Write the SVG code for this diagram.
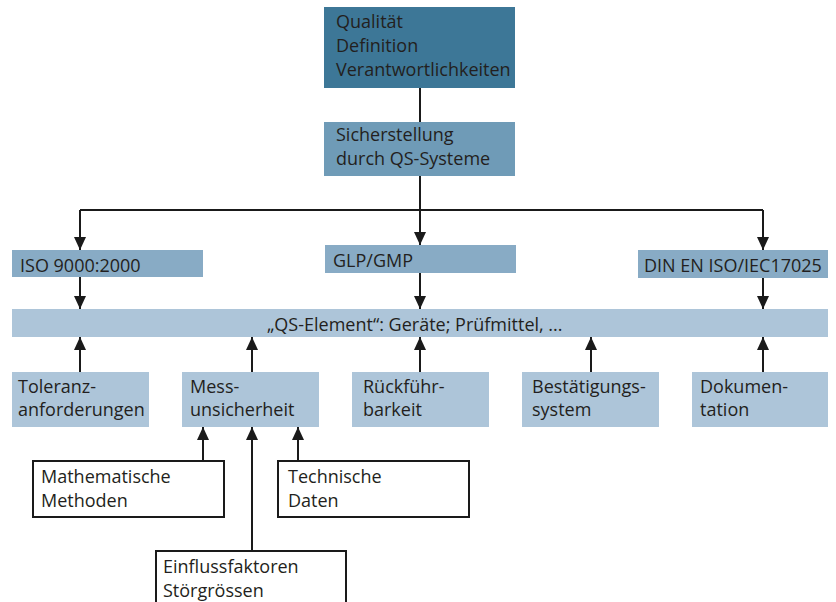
<svg xmlns="http://www.w3.org/2000/svg" width="836" height="602" viewBox="0 0 836 602">
  <style>
    text { font-family: "Open Sans", "Liberation Sans", sans-serif; font-size: 18px; fill: #231f20; }
    .dark { fill: #3d7797; }
    .mid { fill: #6f9bb7; }
    .std { fill: #88abc5; }
    .light { fill: #adc5d9; }
    .outline { fill: #ffffff; stroke: #1a1a1a; stroke-width: 2; }
    .wire { fill: none; stroke: #1a1a1a; stroke-width: 2; }
    .arrow { fill: none; stroke: #1a1a1a; stroke-width: 2; marker-end: url(#head); }
  </style>
  <defs>
    <marker id="head" viewBox="0 0 13 12" refX="13" refY="6" markerWidth="13" markerHeight="12" markerUnits="userSpaceOnUse" orient="auto">
      <path d="M0,0 L13,6 L0,12 Z" fill="#1a1a1a"/>
    </marker>
  </defs>

  <g id="connectors">
    <path class="wire" d="M420,88 V122"/>
    <path class="wire" d="M80,210 H763"/>
    <path class="arrow" d="M420,176 V245"/>
    <path class="arrow" d="M80,210 V250"/>
    <path class="arrow" d="M763,210 V250"/>
    <path class="arrow" d="M80,277 V309"/>
    <path class="arrow" d="M420,273 V309"/>
    <path class="arrow" d="M763,278 V309"/>
    <path class="arrow" d="M80,372 V337"/>
    <path class="arrow" d="M252,372 V337"/>
    <path class="arrow" d="M420,372 V337"/>
    <path class="arrow" d="M591,372 V337"/>
    <path class="arrow" d="M763,372 V337"/>
    <path class="arrow" d="M203,461 V427"/>
    <path class="arrow" d="M252,551 V427"/>
    <path class="arrow" d="M298,461 V427"/>
  </g>

  <g id="qualitaet">
    <rect class="dark" x="324" y="7" width="191" height="81"/>
    <text x="336" y="28">Qualität</text>
    <text x="336" y="52">Definition</text>
    <text x="336" y="76">Verantwortlichkeiten</text>
  </g>
  <g id="sicherstellung">
    <rect class="mid" x="324" y="122" width="191" height="54"/>
    <text x="336" y="141">Sicherstellung</text>
    <text x="336" y="165">durch QS-Systeme</text>
  </g>
  <g id="iso9000">
    <rect class="std" x="12" y="250" width="191" height="27"/>
    <text x="20" y="272">ISO 9000:2000</text>
  </g>
  <g id="glp-gmp">
    <rect class="std" x="325" y="245" width="191" height="28"/>
    <text x="333" y="267">GLP/GMP</text>
  </g>
  <g id="din-en-iso">
    <rect class="std" x="638" y="250" width="190" height="28"/>
    <text x="644" y="272">DIN EN ISO/IEC17025</text>
  </g>
  <g id="qs-element">
    <rect class="light" x="12" y="309" width="816" height="28"/>
    <text x="267" y="331">„QS-Element“: Geräte; Prüfmittel, ...</text>
  </g>
  <g id="toleranz">
    <rect class="light" x="12" y="372" width="137" height="55"/>
    <text x="18" y="393">Toleranz-</text>
    <text x="18" y="416">anforderungen</text>
  </g>
  <g id="messunsicherheit">
    <rect class="light" x="182" y="372" width="137" height="55"/>
    <text x="190" y="393">Mess-</text>
    <text x="190" y="416">unsicherheit</text>
  </g>
  <g id="rueckfuehrbarkeit">
    <rect class="light" x="352" y="372" width="137" height="55"/>
    <text x="363" y="393">Rückführ-</text>
    <text x="363" y="416">barkeit</text>
  </g>
  <g id="bestaetigungssystem">
    <rect class="light" x="522" y="372" width="137" height="55"/>
    <text x="532" y="393">Bestätigungs-</text>
    <text x="532" y="416">system</text>
  </g>
  <g id="dokumentation">
    <rect class="light" x="692" y="372" width="136" height="55"/>
    <text x="700" y="393">Dokumen-</text>
    <text x="700" y="416">tation</text>
  </g>
  <g id="mathematische-methoden">
    <rect class="outline" x="33" y="461" width="191" height="56"/>
    <text x="41" y="483">Mathematische</text>
    <text x="41" y="507">Methoden</text>
  </g>
  <g id="technische-daten">
    <rect class="outline" x="278" y="461" width="191" height="56"/>
    <text x="288" y="483">Technische</text>
    <text x="288" y="507">Daten</text>
  </g>
  <g id="einflussfaktoren">
    <rect class="outline" x="156" y="551" width="190" height="60"/>
    <text x="163" y="573">Einflussfaktoren</text>
    <text x="163" y="597">Störgrössen</text>
  </g>
</svg>
